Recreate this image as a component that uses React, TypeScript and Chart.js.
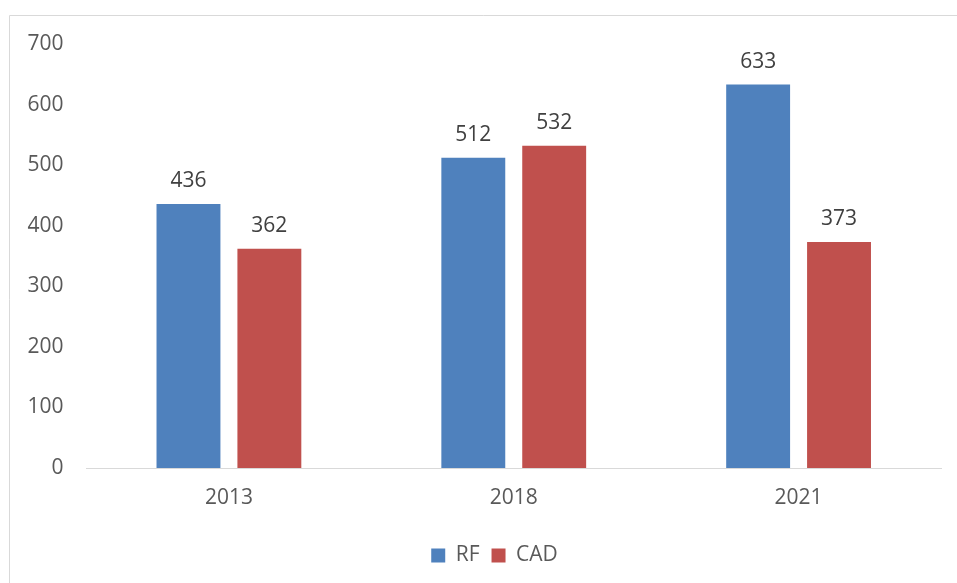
import React, { useEffect, useRef } from "react";
import { Chart, registerables } from "chart.js";

Chart.register(...registerables);

const categories = ["2013", "2018", "2021"];
const rfValues = [436, 512, 633];
const cadValues = [362, 532, 373];
const seriesNames = ["RF", "CAD"];
const yMin = 0;
const yMax = 700;
const yStep = 100;

const FONT = "'Open Sans', 'Liberation Sans', sans-serif";

const borderPlugin = {
  id: "frameBorder",
  beforeDraw(chart: any) {
    const ctx = chart.ctx;
    ctx.save();
    ctx.strokeStyle = "#d9d9d9";
    ctx.lineWidth = 1;
    ctx.beginPath();
    ctx.moveTo(9.5, chart.height);
    ctx.lineTo(9.5, 15.5);
    ctx.lineTo(chart.width, 15.5);
    ctx.stroke();
    ctx.restore();
    // nudge legend to the reference position
    const lg = chart.legend;
    if (lg && !lg._shifted) {
      lg.left += 19;
      lg.right += 19;
      lg.top += 3;
      lg.bottom += 3;
      lg._shifted = true;
    }
  },
};

const labelPlugin = {
  id: "valueLabels",
  afterDatasetsDraw(chart: any) {
    const ctx = chart.ctx;
    ctx.save();
    ctx.font = `21px ${FONT}`;
    ctx.fillStyle = "#404040";
    ctx.textAlign = "center";
    ctx.textBaseline = "middle";
    chart.data.datasets.forEach((ds: any, di: number) => {
      const meta = chart.getDatasetMeta(di);
      meta.data.forEach((el: any, i: number) => {
        ctx.fillText(String(ds.data[i]), el.x, el.y - 23);
      });
    });
    ctx.restore();
  },
};

export default function App() {
  const ref = useRef<HTMLCanvasElement | null>(null);
  useEffect(() => {
    if (!ref.current) return;
    const chart = new Chart(ref.current, {
      type: "bar",
      data: {
        labels: categories,
        datasets: [
          {
            label: seriesNames[0],
            data: rfValues,
            backgroundColor: "#4F81BD",
            categoryPercentage: 0.568,
            barPercentage: 0.79,
          },
          {
            label: seriesNames[1],
            data: cadValues,
            backgroundColor: "#C0504D",
            categoryPercentage: 0.568,
            barPercentage: 0.79,
          },
        ],
      },
      options: {
        animation: false,
        responsive: false,
        maintainAspectRatio: false,
        devicePixelRatio: 1,
        layout: { padding: { left: 10, right: 16, top: 44, bottom: 10 } },
        plugins: {
          legend: {
            position: "bottom",
            labels: {
              boxWidth: 14,
              boxHeight: 14,
              color: "#595959",
              font: { family: FONT, size: 21 },
              padding: 12,
            },
          },
          tooltip: { enabled: false },
        },
        scales: {
          x: {
            grid: { display: false, drawTicks: false },
            border: { display: true, color: "#d9d9d9", width: 1 },
            ticks: {
              color: "#595959",
              font: { family: FONT, size: 21 },
              padding: 17,
            },
            afterFit(scale: any) {
              scale.height = 62;
            },
          },
          y: {
            min: yMin,
            max: yMax,
            grid: { display: false, drawTicks: false },
            border: { display: false },
            ticks: {
              stepSize: yStep,
              color: "#595959",
              font: { family: FONT, size: 21 },
              padding: 23,
            },
            afterFit(scale: any) {
              scale.width = 76.5;
            },
          },
        },
      },
      plugins: [borderPlugin, labelPlugin],
    });
    return () => chart.destroy();
  }, []);
  return (
    <div style={{ position: "fixed", left: 0, top: 0, width: 957, height: 583, background: "#fff" }}>
      <canvas ref={ref} width={957} height={583} style={{ display: "block", width: 957, height: 583 }} />
    </div>
  );
}
